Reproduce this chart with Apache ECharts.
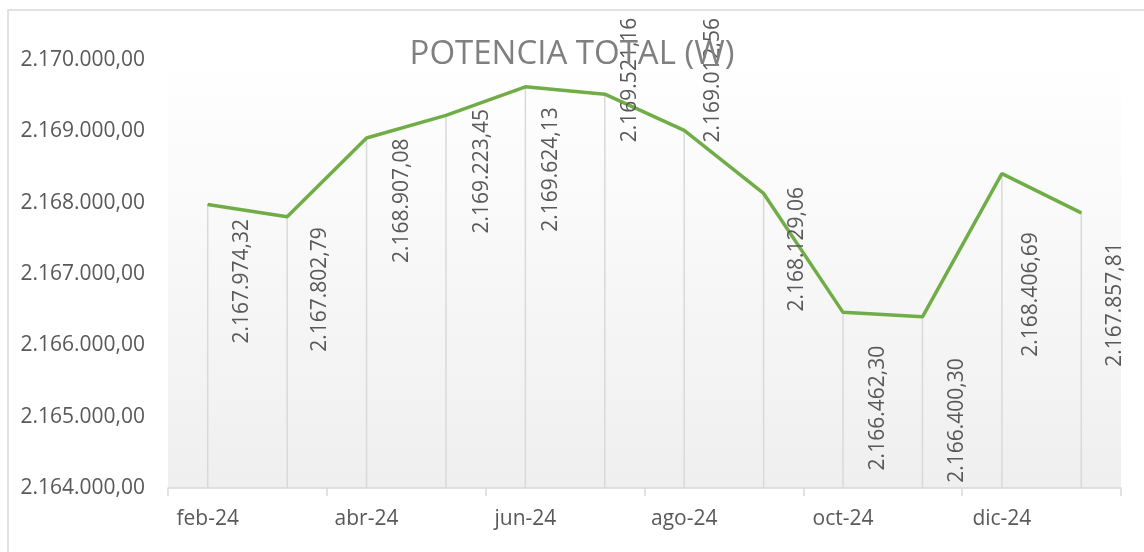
<!DOCTYPE html>
<html>
<head>
<meta charset="utf-8">
<script src="https://cdn.jsdelivr.net/npm/echarts@6/dist/echarts.min.js"></script>
<style>
html,body{margin:0;padding:0;background:#fff;}
#c{width:1144px;height:552px;}
</style>
</head>
<body>
<div id="c"></div>
<script>
const title = 'POTENCIA TOTAL (W)';
const categories = ['feb-24','mar-24','abr-24','may-24','jun-24','jul-24','ago-24','sep-24','oct-24','nov-24','dic-24','ene-25'];
const values = [2167974.32, 2167802.79, 2168907.08, 2169223.45, 2169624.13, 2169521.16, 2169012.56, 2168129.06, 2166462.30, 2166400.30, 2168406.69, 2167857.81];
const yMin = 2164000, yMax = 2170000, yStep = 1000;

// label placement nudges (pixels: right, down from the point) as in the source chart
const labelNudge = [[34,14],[33,10],[35,0],[36,-7],[26,20],[25,-77],[29,-113],[33,-7],[35,33],[35,41],[29,58],[34,29]];

function fmt(v, dec) {
  const parts = v.toFixed(dec).split('.');
  const intPart = parts[0].replace(/\B(?=(\d{3})+(?!\d))/g, '.');
  return dec ? intPart + ',' + parts[1] : intPart;
}

const FONT = 'Open Sans';
const chart = echarts.init(document.getElementById('c'), null, {renderer: 'canvas'});
chart.setOption({
  backgroundColor: '#fff',
  animation: false,
  title: {
    text: title, left: 'center', top: 33,
    textStyle: {fontFamily: FONT, fontSize: 33, fontWeight: 'normal', color: '#808080'}
  },
  graphic: [{
    type: 'rect', shape: {x: 8, y: 10, width: 1200, height: 600},
    style: {fill: 'none', stroke: '#d9d9d9', lineWidth: 1.5}, z: -1
  }],
  grid: {
    left: 168, right: 23, top: 60, bottom: 64,
    show: true, borderWidth: 0,
    backgroundColor: {type: 'linear', x: 0, y: 0, x2: 0, y2: 1,
      colorStops: [{offset: 0, color: '#ffffff'}, {offset: 1, color: '#efefef'}]}
  },
  xAxis: {
    type: 'category', data: categories, boundaryGap: true,
    axisLine: {lineStyle: {color: '#d9d9d9', width: 1.5}},
    axisTick: {show: true, interval: 1, length: 8, lineStyle: {color: '#d9d9d9', width: 1.5}},
    axisLabel: {interval: 1, margin: 21, fontFamily: FONT, fontSize: 21, color: '#595959'},
    splitLine: {show: false}
  },
  yAxis: {
    type: 'value', min: yMin, max: yMax, interval: yStep,
    axisLine: {show: false}, axisTick: {show: false},
    splitLine: {show: false},
    axisLabel: {margin: 23, fontFamily: FONT, fontSize: 21, color: '#595959',
      formatter: v => fmt(v, 2)}
  },
  series: [{
    type: 'bar', data: values, barWidth: 1.5, silent: true,
    itemStyle: {color: '#d9d9d9'}, z: 1
  }, {
    type: 'line', z: 3,
    data: values.map((v, i) => ({
      value: v,
      // label is rotated 90deg, so its offset is given in the rotated frame
      label: {offset: [-labelNudge[i][1], labelNudge[i][0]]}
    })),
    symbol: 'circle', symbolSize: 1,
    lineStyle: {color: '#70AD47', width: 3.5},
    itemStyle: {color: '#70AD47'},
    label: {
      show: true, position: 'bottom', distance: 0, rotate: 90,
      align: 'right', verticalAlign: 'middle',
      fontFamily: FONT, fontSize: 21, color: '#595959',
      formatter: p => fmt(p.value, 2)
    }
  }]
});
</script>
</body>
</html>
